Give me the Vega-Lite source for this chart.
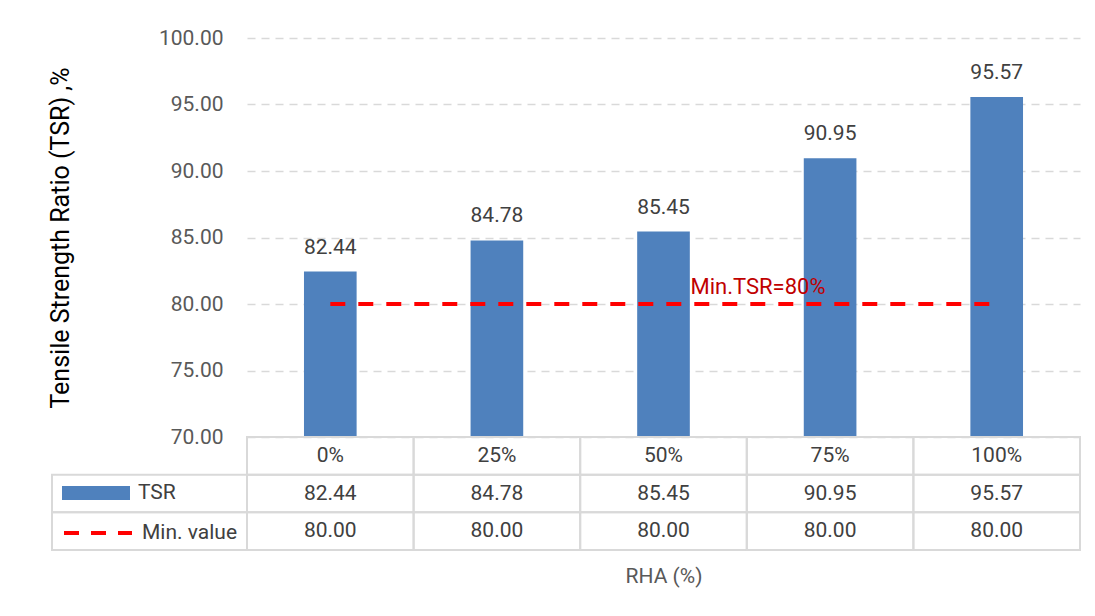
{
  "$schema": "https://vega.github.io/schema/vega-lite/v6.json",
  "padding": {"left": 48, "top": 27, "right": 5, "bottom": 5},
  "background": "white",
  "datasets": {
    "main": [
      {"RHA": "0%", "TSR": 82.44, "MinValue": 80},
      {"RHA": "25%", "TSR": 84.78, "MinValue": 80},
      {"RHA": "50%", "TSR": 85.45, "MinValue": 80},
      {"RHA": "75%", "TSR": 90.95, "MinValue": 80},
      {"RHA": "100%", "TSR": 95.57, "MinValue": 80}
    ]
  },
  "config": {"view": {"stroke": null}, "font": "Roboto"},
  "columns": 2,
  "spacing": 0,
  "bounds": "flush",
  "concat": [
    {
      "width": 195, "height": 399,
      "data": {"values": [{"t": ""}]},
      "mark": {"type": "text"},
      "encoding": {"text": {"field": "t"}}
    },
    {
      "width": 833, "height": 399,
      "data": {"name": "main"},
      "encoding": {
        "x": {"field": "RHA", "type": "nominal", "sort": null,
          "scale": {"domain": ["0%", "25%", "50%", "75%", "100%"], "paddingInner": 0.684, "paddingOuter": 0.342},
          "axis": null}
      },
      "layer": [
        {
          "mark": {"type": "bar"},
          "encoding": {
            "y": {"field": "TSR", "type": "quantitative",
              "scale": {"domain": [70, 100], "zero": false, "nice": false},
              "axis": {"title": "Tensile Strength Ratio (TSR) ,%", "values": [70, 75, 80, 85, 90, 95, 100], "format": ".2f",
                "labelFontSize": 21, "labelColor": "#595959", "labelPadding": 24, "ticks": false, "domain": false,
                "grid": true, "gridColor": "#D9D9D9", "gridDash": [8, 6], "gridWidth": 1.3,
                "titleFontSize": 25, "titleColor": "#000000", "titleFontWeight": "normal", "titlePadding": 85}},
            "y2": {"datum": 70},
            "fill": {"datum": "TSR", "type": "nominal", "scale": {"range": ["#4F81BD"]},
              "legend": {"orient": "none", "legendX": 10, "legendY": 421, "title": null,
                "symbolType": "M-1,-0.206H1V0.206H-1Z", "symbolSize": 4624, "symbolStrokeWidth": 0,
                "labelFontSize": 21, "labelColor": "#404040", "labelOffset": 8, "padding": 0}}
          }
        },
        {
          "mark": {"type": "line", "strokeDash": [15, 13], "strokeWidth": 4},
          "encoding": {
            "y": {"field": "MinValue", "type": "quantitative"},
            "stroke": {"datum": "Min. value", "type": "nominal", "scale": {"range": ["#FF0000"]},
              "legend": {"orient": "none", "legendX": 10, "legendY": 459, "title": null,
                "symbolType": "stroke", "symbolSize": 4624, "symbolDash": [15, 12], "symbolStrokeWidth": 4,
                "labelFontSize": 21, "labelColor": "#404040", "labelOffset": 8, "padding": 0}}
          }
        },
        {
          "mark": {"type": "text", "baseline": "middle", "dy": -24, "fontSize": 21, "color": "#404040"},
          "encoding": {
            "y": {"field": "TSR", "type": "quantitative"},
            "text": {"field": "TSR", "type": "quantitative", "format": ".2f"}
          }
        },
        {
          "data": {"values": [{"RHA": "50%", "value": 80, "label": "Min.TSR=80%"}]},
          "mark": {"type": "text", "align": "left", "baseline": "alphabetic", "dx": 27, "dy": -10.5, "fontSize": 22, "color": "#C00000"},
          "encoding": {
            "y": {"field": "value", "type": "quantitative"},
            "text": {"field": "label"}
          }
        }
      ]
    },
    {
      "width": 195, "height": 113,
      "data": {"values": [{"row": "TSR"}, {"row": "Min. value"}]},
      "mark": {"type": "rect", "fill": "transparent", "stroke": "#D9D9D9", "strokeWidth": 2},
      "encoding": {
        "y": {"field": "row", "type": "nominal",
          "scale": {"domain": ["header", "TSR", "Min. value"], "paddingInner": 0, "paddingOuter": 0}, "axis": null}
      }
    },
    {
      "width": 833, "height": 113,
      "data": {"name": "main"},
      "transform": [{"fold": ["TSR", "MinValue"], "as": ["row", "value"]}],
      "encoding": {
        "x": {"field": "RHA", "type": "nominal",
          "scale": {"domain": ["0%", "25%", "50%", "75%", "100%"], "paddingInner": 0, "paddingOuter": 0},
          "axis": {"title": "RHA (%)", "labels": false, "ticks": false, "domain": false,
            "titleFontSize": 21, "titleColor": "#595959", "titleFontWeight": "normal", "titlePadding": 15}}
      },
      "layer": [
        {
          "mark": {"type": "rect", "fill": "transparent", "stroke": "#D9D9D9", "strokeWidth": 2},
          "encoding": {
            "y": {"field": "row", "type": "nominal",
              "scale": {"domain": ["header", "TSR", "MinValue"], "paddingInner": 0, "paddingOuter": 0}, "axis": null}
          }
        },
        {
          "mark": {"type": "text", "fontSize": 21, "color": "#404040", "baseline": "middle"},
          "encoding": {
            "y": {"field": "row", "type": "nominal"},
            "text": {"field": "value", "type": "quantitative", "format": ".2f"}
          }
        },
        {
          "transform": [{"filter": "datum.row === 'TSR'"}],
          "mark": {"type": "rect", "fill": "transparent", "stroke": "#D9D9D9", "strokeWidth": 2},
          "encoding": {
            "y": {"datum": "header", "type": "nominal"}
          }
        },
        {
          "transform": [{"filter": "datum.row === 'TSR'"}],
          "mark": {"type": "text", "fontSize": 21, "color": "#404040", "baseline": "middle"},
          "encoding": {
            "y": {"datum": "header", "type": "nominal"},
            "text": {"field": "RHA"}
          }
        }
      ]
    }
  ]
}
